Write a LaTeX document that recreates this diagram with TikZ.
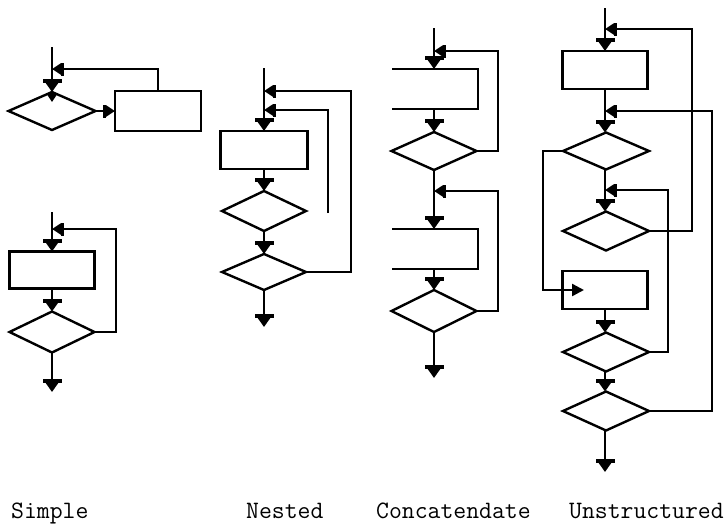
\documentclass[tikz,border=0pt]{standalone}
\usepackage{fontspec}
\usetikzlibrary{shapes.geometric,arrows.meta}
\begin{document}
\begin{tikzpicture}[x=1pt,y=-1pt,
  line width=2.4pt, line join=miter,
  dia/.style={draw, shape=diamond, inner sep=0pt, outer sep=0pt, minimum width=86pt, minimum height=39pt},
  box/.style={draw, rectangle, inner sep=0pt, outer sep=0pt, minimum width=86pt, minimum height=38pt},
  openbox/.style={rectangle, inner sep=0pt, outer sep=0pt, minimum width=86pt, minimum height=40pt},
  down/.style={-{Rectangle[width=19pt,length=4pt,sep=0pt]Triangle[width=12pt,length=9pt]}},
  back/.style={-{Rectangle[width=13pt,length=3pt,sep=0pt]Triangle[width=11pt,length=9pt]}},
  lab/.style={anchor=base west, inner sep=0pt, font=\ttfamily\fontsize{25}{27}\selectfont}
]
\useasboundingbox (0,0) rectangle (726,523);

% ---------------- Simple (top)
\coordinate (s0top) at (52,47);
\coordinate (s0m) at (52,69);
\node[dia, minimum width=87pt, minimum height=38pt] (s0d) at (52,111) {};
\node[box, minimum height=40pt] (s0b) at (158,111) {};
\draw[down] (s0top) -- (s0d.north);
\coordinate (s0in) at (52,102);
\draw[-{Triangle[width=10pt,length=8pt]}] (s0d.north) -- (s0in);
\draw[back] (s0b.north) |- (s0m);
\draw[back] (s0d.east) -- (s0b.west);

% ---------------- Simple (bottom)
\coordinate (s1top) at (52,212);
\coordinate (s1m) at (52,229);
\node[box, minimum width=85pt, minimum height=37pt] (s1b) at (52,270) {};
\node[dia, minimum width=85pt, minimum height=41pt] (s1d) at (52,332) {};
\coordinate (s1c) at (116,229);
\coordinate (s1e) at (52,392);
\draw[down] (s1top) -- (s1b.north);
\draw[down] (s1b.south) -- (s1d.north);
\draw[back] (s1d.east) -| (s1c) -- (s1m);
\draw[down] (s1d.south) -- (s1e);

% ---------------- Nested
\coordinate (ntop) at (264,68);
\coordinate (nmo) at (264,91);
\coordinate (nmi) at (264,110);
\node[box, minimum width=87pt] (nb) at (264,150) {};
\node[dia, minimum width=84pt, minimum height=40pt] (nd1) at (264,211) {};
\node[dia, minimum width=84pt, minimum height=36pt] (nd2) at (264,272) {};
\coordinate (nco) at (351,91);
\coordinate (nci) at (328,213);
\coordinate (ne) at (264,327);
\draw[down] (ntop) -- (nb.north);
\draw[down] (nb.south) -- (nd1.north);
\draw[down] (nd1.south) -- (nd2.north);
\draw[back] (nd2.east) -| (nco) -- (nmo);
\draw[back] (nci) |- (nmi);
\draw[down] (nd2.south) -- (ne);

% ---------------- Concatendate
\coordinate (ctop) at (434,28);
\coordinate (cm1) at (434,51);
\node[openbox] (cb1) at (435,89) {};
\node[dia, minimum width=85pt, minimum height=38pt] (cd1) at (434,151) {};
\coordinate (cm2) at (434,191);
\node[openbox] (cb2) at (435,249) {};
\node[dia, minimum width=85pt, minimum height=42pt] (cd2) at (434,311) {};
\coordinate (cc1) at (498,51);
\coordinate (cc2) at (498,191);
\coordinate (ce) at (434,378);
\draw (cb1.north west) -- (cb1.north east) -- (cb1.south east) -- (cb1.south west);
\draw (cb2.north west) -- (cb2.north east) -- (cb2.south east) -- (cb2.south west);
\draw[down] (ctop) -- (ctop |- cb1.north);
\draw[down] (cb1.south -| ctop) -- (cd1.north);
\draw[down] (cd1.south) -- (cd1.south |- cb2.north);
\draw[back] (cd1.east) -| (cc1) -- (cm1);
\draw[back] (cd2.east) -| (cc2) -- (cm2);
\draw[down] (cb2.south -| ctop) -- (cd2.north);
\draw[down] (cd2.south) -- (ce);

% ---------------- Unstructured
\coordinate (utop) at (605,8);
\coordinate (umA) at (605,29);
\coordinate (umB) at (605,111);
\coordinate (umC) at (605,190);
\node[box, minimum width=85pt] (ub1) at (605,70) {};
\node[dia, minimum height=37pt] (ud1) at (606,151) {};
\node[dia] (ud2) at (606,231) {};
\node[box, minimum width=85pt] (ub2) at (605,290) {};
\node[dia] (ud3) at (606,352) {};
\node[dia] (ud4) at (606,411) {};
\coordinate (ucA) at (692,29);
\coordinate (ucB) at (712,111);
\coordinate (ucC) at (668,190);
\coordinate (ucL) at (543,290);
\coordinate (uin) at (584,290);
\coordinate (ue) at (605,472);
\draw[down] (utop) -- (ub1.north);
\draw[down] (ub1.south) -- (ud1.north -| ub1.south);
\draw[down] (ud1.south -| ub1.south) -- (ud2.north -| ub1.south);
\draw[down] (ub2.south) -- (ud3.north -| ub2.south);
\draw[down] (ud3.south -| ub2.south) -- (ud4.north -| ub2.south);
\draw[down] (ud4.south -| ub2.south) -- (ue);
\draw[back] (ud2.east) -| (ucA) -- (umA);
\draw[back] (ud4.east) -| (ucB) -- (umB);
\draw[back] (ud3.east) -| (ucC) -- (umC);
\draw[-{Triangle[width=12pt,length=12pt]}] (ud1.west) -| (ucL) -- (uin);

% ---------------- Labels
\node[lab] (l1) at (10,518) {Simple};
\node[lab] (l2) at (245,518) {Nested};
\node[lab] (l3) at (375,518) {Concatendate};
\node[lab] (l4) at (568,518) {Unstructured};
\end{tikzpicture}
\end{document}
